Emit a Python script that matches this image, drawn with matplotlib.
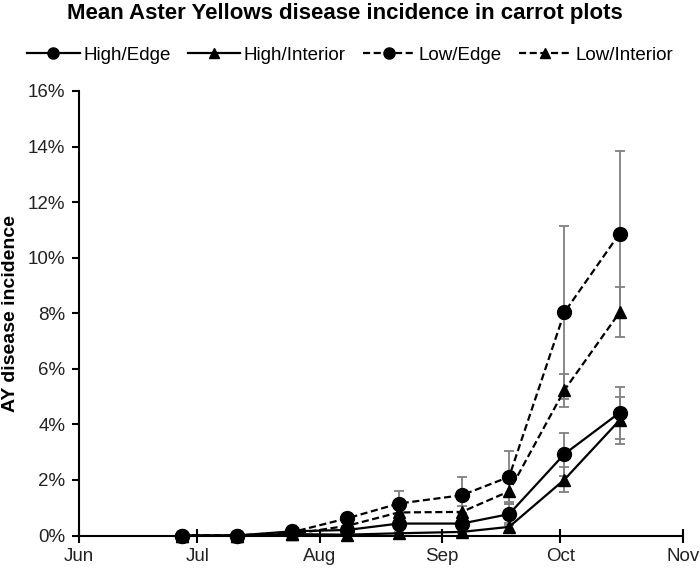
import datetime as dt
import matplotlib
matplotlib.use("Agg")
import matplotlib.pyplot as plt
import matplotlib.dates as mdates
from matplotlib.ticker import PercentFormatter, MultipleLocator

plt.rcParams['font.family'] = ['Liberation Sans', 'DejaVu Sans']

# sampling dates (month-day) and mean incidence in %
dates = ['06-27', '07-11', '07-25', '08-08', '08-21', '09-06', '09-18', '10-02', '10-16']
high_edge = [0, 0, 0.15, 0.20, 0.43, 0.43, 0.77, 2.93, 4.42]
high_interior = [0, 0, 0.05, 0.03, 0.08, 0.13, 0.31, 2.01, 4.15]
low_edge = [0, 0, 0.12, 0.62, 1.15, 1.45, 2.11, 8.03, 10.87]
low_interior = [0, 0, 0.05, 0.35, 0.83, 0.85, 1.59, 5.23, 8.03]

# standard errors
high_edge_err = [0, 0, 0, 0.10, 0.15, 0.15, 0.38, 0.77, 0.93]
high_interior_err = [0, 0, 0, 0, 0.05, 0.05, 0.15, 0.44, 0.85]
low_edge_err = [0, 0, 0.05, 0.15, 0.44, 0.64, 0.92, 3.10, 2.96]
low_interior_err = [0, 0, 0, 0.10, 0.20, 0.20, 0.44, 0.60, 0.90]

YEAR = 2019
x = [dt.datetime.strptime(f"{YEAR}-{d}", "%Y-%m-%d") for d in dates]

series = [
    ("High/Edge", high_edge, high_edge_err, '-', 'o'),
    ("High/Interior", high_interior, high_interior_err, '-', '^'),
    ("Low/Edge", low_edge, low_edge_err, '--', 'o'),
    ("Low/Interior", low_interior, low_interior_err, '--', '^'),
]

fig = plt.figure(figsize=(7, 5.68), dpi=100)
ax = fig.add_axes([0.1129, 0.0572, 0.8624, 0.7826])

for label, vals, err, ls, mk in series:
    ax.errorbar(x, vals, yerr=err, fmt='none', ecolor='#808080',
                elinewidth=1.3, capsize=3.5, capthick=1.3, zorder=2)

for label, vals, err, ls, mk in series:
    line, = ax.plot(x, vals, linestyle=ls, marker=mk, color='black', lw=1.6,
                    markersize=10 if mk == 'o' else 9, label=label, zorder=3,
                    clip_on=False)
    if ls == '--':
        line.set_dashes([3.2, 1.6])

ax.set_xlim(dt.datetime(YEAR, 6, 1), dt.datetime(YEAR, 11, 1))
ax.set_ylim(0, 16)
ax.xaxis.set_major_locator(mdates.MonthLocator())
ax.xaxis.set_major_formatter(mdates.DateFormatter('%b'))
ax.yaxis.set_major_locator(MultipleLocator(2))
ax.yaxis.set_major_formatter(PercentFormatter(xmax=100, decimals=0))

for s in ['top', 'right']:
    ax.spines[s].set_visible(False)
for s in ['left', 'bottom']:
    ax.spines[s].set_linewidth(1.5)
    ax.spines[s].set_color('black')

ax.tick_params(axis='x', direction='inout', length=10, width=1.5,
               labelsize=13.5, pad=4, labelcolor='#222222')
ax.tick_params(axis='y', direction='out', length=5, width=1.5,
               labelsize=13.5, pad=5, labelcolor='#222222')

ax.set_ylabel('AY disease incidence', fontsize=14, fontweight='bold', labelpad=6)

fig.suptitle('Mean Aster Yellows disease incidence in carrot plots',
             fontsize=16, fontweight='bold', x=0.493, y=0.995)

fig.legend(loc='center', bbox_to_anchor=(0.5, 0.903), ncol=4, frameon=False,
           fontsize=13.5, handlelength=2.8, columnspacing=0.9,
           handletextpad=0.2, markerscale=0.8)

fig.savefig('out.png', dpi=100)
